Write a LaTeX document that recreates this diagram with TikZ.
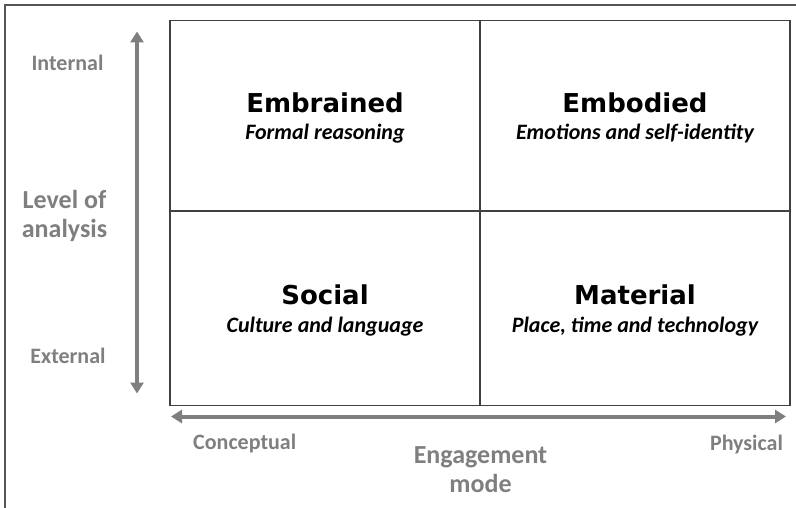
\documentclass[tikz,border=0pt]{standalone}
\usepackage{fontspec}
\setmainfont{Carlito}
\newfontfamily\headfont{DejaVu Sans}
\usetikzlibrary{arrows.meta}

\definecolor{axisgray}{HTML}{7F7F7F}
\definecolor{gridline}{HTML}{404040}
\definecolor{framegray}{HTML}{555555}

\begin{document}
\begin{tikzpicture}[
        x=1pt, y=-1pt,
        cell/.style={draw=gridline, line width=1.3pt, minimum width=310pt, inner sep=0pt},
        title/.style={anchor=base, font=\headfont\bfseries\fontsize{26}{30}\selectfont},
        sub/.style={anchor=base, font=\bfseries\itshape\fontsize{22}{26}\selectfont},
        axislabel/.style={anchor=base, text=axisgray, font=\bfseries\fontsize{22}{26}\selectfont},
        axisname/.style={text=axisgray, align=center, font=\bfseries\fontsize{26}{29}\selectfont},
        axisarrow/.style={draw=axisgray, line width=4pt,
            {Triangle[width=13pt,length=11pt]}-{Triangle[width=13pt,length=11pt]}},
    ]
    \useasboundingbox (0,0) rectangle (796,508);

    % open frame, only top and left
    \coordinate (frameBL) at (5,508);
    \coordinate (frameTL) at (5,5);
    \coordinate (frameTR) at (796,5);
    \draw[framegray, line width=2pt] (frameBL) -- (frameTL) -- (frameTR);

    % the four quadrants
    \node [cell, minimum height=190.5pt] (embrained) at (325,115.75) {};
    \node [cell, minimum height=190.5pt] (embodied) at (635,115.75) {};
    \node [cell, minimum height=194.5pt] (social) at (325,308.25) {};
    \node [cell, minimum height=194.5pt] (material) at (635,308.25) {};

    \node [title] (embrainedT) at ([yshift=3.5pt]embrained.center) {Embrained};
    \node [sub] (embrainedS) at ([yshift=-27pt]embrainedT.base) {Formal reasoning};
    \node [title] (embodiedT) at ([yshift=3.5pt]embodied.center) {Embodied};
    \node [sub] (embodiedS) at ([yshift=-27pt]embodiedT.base) {Emotions and self-identity};
    \node [title] (socialT) at ([yshift=4pt]social.center) {Social};
    \node [sub] (socialS) at ([yshift=-28pt]socialT.base) {Culture and language};
    \node [title] (materialT) at ([yshift=4pt]material.center) {Material};
    \node [sub] (materialS) at ([yshift=-28pt]materialT.base) {Place, time and technology};

    % axes
    \coordinate (axisTop) at (137,31.5);
    \coordinate (axisBottom) at (137,393.5);
    \coordinate (axisLeft) at (171,416.5);
    \coordinate (axisRight) at (786,416.5);
    \draw[axisarrow] (axisTop) -- (axisBottom);
    \draw[axisarrow] (axisLeft) -- (axisRight);

    \node [axislabel] (internal) at (67.5,71) {Internal};
    \node [axislabel] (external) at (68,363) {External};
    \node [axisname] (level) at (64.5,216) {Level of\\analysis};
    \node [axislabel] (conceptual) at (244.7,449) {Conceptual};
    \node [axislabel] (physical) at (746.5,450) {Physical};
    \node [axisname] (engagement) at (480.5,470) {Engagement\\mode};
\end{tikzpicture}
\end{document}
